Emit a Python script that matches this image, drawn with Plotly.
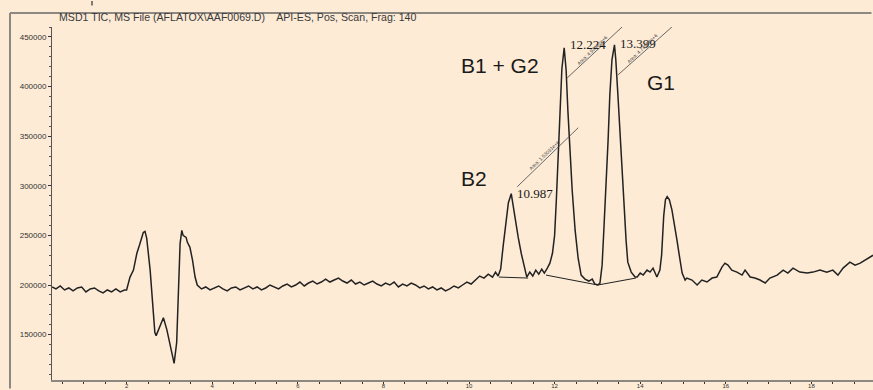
import numpy as np
import plotly.graph_objects as go

# ---------------- data (retention time in min, abundance in thousands) ----------------
time_lead = [0.26, 0.35, 0.45, 0.55, 0.65, 0.75, 0.85, 0.95, 1.05, 1.15, 1.25, 1.35, 1.45,
             1.55, 1.65, 1.75, 1.85, 1.95]
abund_lead = [198, 196, 199, 195, 197, 194, 197, 198, 193, 196, 197, 194, 192,
              195, 193, 196, 193, 195]

time_front = [2.00, 2.08, 2.16, 2.20, 2.24, 2.30, 2.35, 2.39, 2.43, 2.47, 2.55, 2.61, 2.66,
              2.69, 2.75, 2.80, 2.86, 2.94, 3.03, 3.11, 3.17, 3.22, 3.25, 3.29, 3.32, 3.39,
              3.42, 3.48, 3.54, 3.60, 3.65]
abund_front = [195, 208, 215, 225, 232, 240, 249, 253, 254, 247, 215, 175, 152,
               149, 156, 162, 167, 155, 138, 121, 142, 198, 242, 255, 250, 248,
               243, 238, 225, 208, 200]

time_mid = [3.75, 3.85, 3.95, 4.05, 4.15, 4.25, 4.35, 4.45, 4.55, 4.65,
            4.75, 4.85, 4.95, 5.05, 5.15, 5.25, 5.35, 5.45, 5.55, 5.65,
            5.75, 5.85, 5.95, 6.05, 6.15, 6.25, 6.35, 6.45, 6.55, 6.65,
            6.75, 6.85, 6.95, 7.05, 7.15, 7.25, 7.35, 7.45, 7.55, 7.65,
            7.75, 7.85, 7.95, 8.05, 8.15, 8.25, 8.35, 8.45, 8.55, 8.65,
            8.75, 8.85, 8.95, 9.05, 9.15, 9.25, 9.35, 9.45, 9.55, 9.65,
            9.75, 9.85, 9.95, 10.05, 10.15, 10.25, 10.35]
abund_mid = [196, 198, 195, 197, 199, 196, 194, 197, 198, 195,
             197, 199, 196, 198, 195, 197, 200, 198, 196, 199,
             201, 198, 200, 203, 199, 202, 204, 201, 203, 206,
             203, 205, 207, 204, 202, 205, 201, 203, 200, 202,
             204, 201, 199, 202, 200, 203, 198, 201, 199, 202,
             200, 197, 199, 196, 198, 195, 197, 194, 196, 199,
             197, 200, 203, 201, 205, 209, 207]

time_peaks = [10.45, 10.55, 10.62, 10.68, 10.74, 10.80, 10.86, 10.92, 10.987, 11.03, 11.09,
              11.15, 11.22, 11.29, 11.35, 11.42, 11.49, 11.56, 11.63, 11.70, 11.76, 11.83,
              11.89, 11.95, 12.00, 12.04, 12.08, 12.13, 12.17, 12.224, 12.27, 12.31, 12.36,
              12.41, 12.48, 12.55, 12.62, 12.71, 12.80, 12.88, 12.94, 13.01, 13.06, 13.11,
              13.15, 13.20, 13.25, 13.29, 13.34, 13.399, 13.43, 13.48, 13.53, 13.57, 13.62,
              13.67, 13.71, 13.79, 13.88]
abund_peaks = [211, 208, 213, 209, 216, 240, 265, 283, 292, 280, 262,
               248, 232, 218, 208, 213, 209, 215, 211, 216, 212, 217,
               222, 232, 250, 285, 330, 380, 418, 439, 416, 376, 336,
               296, 255, 227, 210, 206, 204, 206, 201, 200, 202, 220,
               255, 296, 346, 391, 427, 442, 427, 391, 351, 321, 286,
               245, 223, 213, 208]

time_tail = [13.93, 14.00, 14.07, 14.16, 14.23, 14.30, 14.39, 14.46, 14.50, 14.55, 14.59,
             14.63, 14.68, 14.74, 14.80, 14.86, 14.92, 14.98, 15.05, 15.09, 15.21, 15.33,
             15.44, 15.56, 15.68, 15.79, 15.91, 15.98, 16.05, 16.14, 16.26, 16.38, 16.45,
             16.57, 16.68, 16.80, 16.92, 17.03, 17.20, 17.34, 17.45, 17.57, 17.73, 17.90,
             18.04, 18.20, 18.36, 18.50, 18.62, 18.74, 18.90, 19.02, 19.14, 19.25, 19.37,
             19.44]
abund_tail = [208, 212, 210, 215, 213, 217, 208, 215, 230, 270, 286,
              289, 286, 276, 262, 245, 228, 212, 205, 207, 205, 200,
              205, 203, 207, 208, 218, 222, 220, 215, 213, 210, 215,
              208, 207, 205, 202, 207, 210, 215, 212, 217, 213, 212,
              213, 215, 213, 215, 210, 217, 223, 220, 222, 225, 228,
              230]

# integration baselines drawn under the peaks (time, abundance in thousands)
base_b2_time = [10.70, 11.38]
base_b2_abund = [208, 207]
base_b1g2_time = [11.80, 13.01]
base_b1g2_abund = [210, 200]
base_g1_time = [13.01, 13.90]
base_g1_abund = [200, 207]

# peak annotations
peak_times = [10.987, 12.224, 13.399]
peak_labels = ["10.987", "12.224", "13.399"]
area_labels = ["Area: 1.53031e+6", "Area: 4.92362e+6", "Area: 4.73958e+6"]
compound_names = ["B2", "B1 + G2", "G1"]

x_tick_vals = [2, 4, 6, 8, 10, 12, 14, 16, 18]
x_tick_text = ["2", "4", "6", "8", "10", "12", "14", "16", "18"]
y_tick_vals = [150000, 200000, 250000, 300000, 350000, 400000, 450000]
y_tick_text = ["150000", "200000", "250000", "300000", "350000", "400000", "450000"]

title_text = "MSD1 TIC, MS File (AFLATOX\\AAF0069.D)    API-ES, Pos, Scan, Frag: 140"

# ---------------- build ----------------
t = np.array(time_lead + time_front + time_mid + time_peaks + time_tail)
a = np.array(abund_lead + abund_front + abund_mid + abund_peaks + abund_tail) * 1000.0

BG = "#fdebd6"
INK = "#222222"
FRAME = "#8d8882"

fig = go.Figure()
fig.add_trace(go.Scatter(x=t, y=a, mode="lines",
                         line=dict(color=INK, width=1.5), hoverinfo="skip"))
for bt, ba in [(base_b2_time, base_b2_abund), (base_b1g2_time, base_b1g2_abund),
               (base_g1_time, base_g1_abund)]:
    fig.add_trace(go.Scatter(x=bt, y=np.array(ba) * 1000.0, mode="lines",
                             line=dict(color=INK, width=1.0), hoverinfo="skip"))

W, H = 873, 390
ML, MR, MT, MB = 52, 0, 27, 10
PW, PH = W - ML - MR, H - MT - MB


def px(xp):
    return (xp - ML) / PW


def py(yp):
    return (H - MB - yp) / PH


def frame_line(x0, y0, x1, y1, color, width):
    # arrow-only annotation: drawn from (x0, y0) to (x1, y1) in page pixels
    return dict(x=px(x0), y=py(y0), xref="paper", yref="paper", text="",
                showarrow=True, arrowhead=0, arrowwidth=width, arrowcolor=color,
                axref="pixel", ayref="pixel", ax=x1 - x0, ay=y1 - y0,
                standoff=0, startstandoff=0)


shapes = []
annotations = [
    frame_line(10, 13, 873, 13, FRAME, 2),
    frame_line(10, 13, 10, 390, FRAME, 2),
    frame_line(92, 0, 92, 7, "#555", 1.5),
]

# leader lines (pixel offsets from each peak apex)
leader_offsets = [((6, 7), (67, 66)), ((3, -30), (58, 21)), ((3.5, -30), (57.5, 18))]
label_shift = [(4, 0), (4, 3), (4, 1)]
area_shift = [(33, 39), (28, -2), (28, -3)]

for i, pt in enumerate(peak_times):
    pv = float(np.interp(pt, t, a))
    (dx0, dy0), (dx1, dy1) = leader_offsets[i]
    shapes.append(dict(type="line", xref="x", yref="y", xsizemode="pixel", ysizemode="pixel",
                       xanchor=pt, yanchor=pv, x0=dx0, x1=dx1, y0=dy0, y1=dy1,
                       line=dict(color="#444", width=0.8)))
    annotations.append(dict(x=pt, y=pv, xref="x", yref="y", text=peak_labels[i],
                            showarrow=False, xanchor="left", yanchor="middle",
                            xshift=label_shift[i][0], yshift=label_shift[i][1],
                            font=dict(family="Liberation Serif", size=13, color="#1a1a1a")))
    annotations.append(dict(x=pt, y=pv, xref="x", yref="y", text=area_labels[i],
                            showarrow=False, xanchor="center", yanchor="middle",
                            xshift=area_shift[i][0], yshift=area_shift[i][1], textangle=-44,
                            font=dict(family="Liberation Sans", size=5, color="#444")))

name_pos = [(474, 178), (500, 65), (661, 82)]
for name, (xp, yp) in zip(compound_names, name_pos):
    annotations.append(dict(x=px(xp), y=py(yp), xref="paper", yref="paper", text=name,
                            showarrow=False, xanchor="center", yanchor="middle",
                            font=dict(family="Liberation Sans", size=21, color="#1a1a1a")))

annotations.append(dict(x=px(57), y=py(17), xref="paper", yref="paper", text=title_text,
                        showarrow=False, xanchor="left", yanchor="middle",
                        font=dict(family="Liberation Sans", size=10.6, color="#3a3a3a")))

fig.update_layout(
    width=W, height=H,
    margin=dict(l=ML, r=MR, t=MT, b=MB, pad=0, autoexpand=False),
    paper_bgcolor=BG, plot_bgcolor=BG,
    showlegend=False,
    shapes=shapes,
    annotations=annotations,
    xaxis=dict(range=[(ML - 41) / 42.8, (W - 41) / 42.8], showgrid=False, zeroline=False,
               automargin=False,
               showline=True, linecolor=FRAME, linewidth=2,
               ticks="outside", ticklen=2, tickcolor="#333", tickwidth=1,
               tickvals=x_tick_vals, ticktext=x_tick_text, ticklabelstandoff=-3,
               tickfont=dict(family="Liberation Sans", size=6, color="#333"),
               minor=dict(dtick=0.5, ticks="outside", ticklen=2, tickcolor="#333")),
    yaxis=dict(range=[104240, 460064], showgrid=False, zeroline=False,
               automargin=False,
               showline=True, linecolor="#555", linewidth=1,
               ticks="outside", ticklen=3, tickcolor="#333", tickwidth=1,
               tickvals=y_tick_vals, ticktext=y_tick_text,
               tickfont=dict(family="Liberation Sans", size=8, color="#333"),
               minor=dict(dtick=10000, ticks="outside", ticklen=2, tickcolor="#555")),
)

fig.write_html(
    "out.html",
    config=dict(displayModeBar=False, staticPlot=True),
    post_script="document.body.style.margin='0px';document.body.style.overflow='hidden';",
)
